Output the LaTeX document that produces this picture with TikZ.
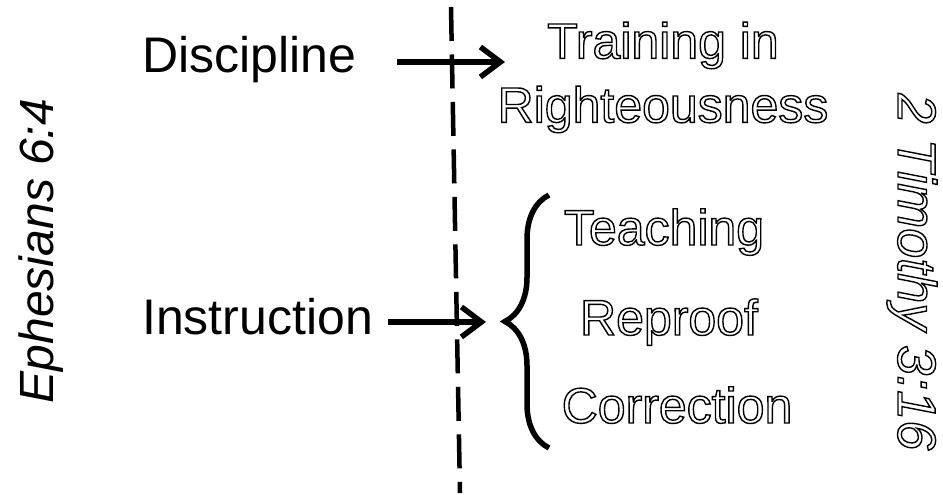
\documentclass[tikz,border=0pt]{standalone}
\usepackage{fontspec}
\setmainfont{Liberation Sans}
\usepackage{xcolor}
\usetikzlibrary{arrows.meta,decorations.pathreplacing}
\definecolor{inkblack}{RGB}{0,0,0}
% outlined (hollow) letters
\newcommand{\hollow}[1]{\special{pdf:literal direct 1 Tr 1.4 w}#1\special{pdf:literal direct 0 Tr}}

\begin{document}
\begin{tikzpicture}[x=1pt, y=1pt,
  plainword/.style={inner sep=0pt, text=inkblack, font=\fontsize{50}{60}\selectfont},
  hollowword/.style={inner sep=0pt, text=inkblack, font=\fontsize{50}{64}\selectfont},
  verse/.style={inner sep=0pt, text=inkblack, font=\fontsize{48}{58}\selectfont\itshape},
  pointer/.style={line width=5.5pt, draw=inkblack, -{Straight Barb[length=20pt,width=30pt]}}]
  \useasboundingbox (0,0) rectangle (943,495);

  % Arrows and brace
  \coordinate (dtip) at (505,433);
  \coordinate (itip) at (486,173);
  \draw[line width=5.5pt, decorate, decoration={brace, amplitude=44pt}] (549,47) -- (549,300);

  % Divider
  \draw[line width=4.5pt, dash pattern=on 34pt off 13.5pt] (451,488) -- (460,2);

  % Left words
  \node[plainword, anchor=base west] (disc) at (142,422) {Discipline};
  \node[plainword, anchor=base west] (instr) at (142,160) {Instruction};
  \draw[pointer] ([shift={(41pt,11pt)}]disc.base east) -- (dtip);
  \draw[pointer] ([shift={(15pt,13pt)}]instr.base east) -- (itip);

  % Verse references
  \node[verse, rotate=90, anchor=base] (eph) at (53,244) {Ephesians 6:4};
  \node[verse, rotate=-90, anchor=base, font=\fontsize{54}{60}\selectfont\itshape] (tim) at (898,223) {\hollow{2 Timothy 3:16}};

  % Right words
  \node[hollowword, anchor=north, align=center] (train) at (663,473) {\hollow{Training in}\\\hollow{Righteousness}};
  \node[hollowword, anchor=base] (teach) at (664,250) {\hollow{Teaching}};
  \node[hollowword, anchor=base] (reproof) at (669,160) {\hollow{Reproof}};
  \node[hollowword, anchor=base] (correct) at (677,72) {\hollow{Correction}};
\end{tikzpicture}
\end{document}
